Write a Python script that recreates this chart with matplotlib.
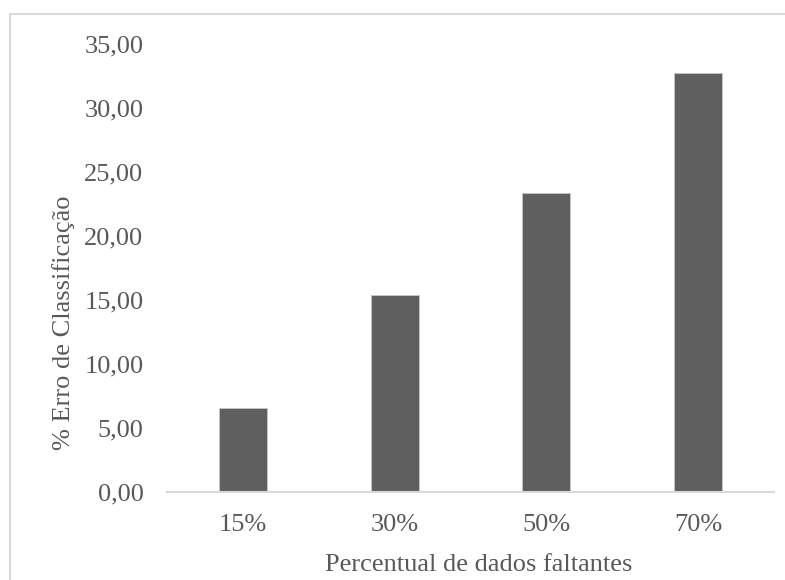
"""
Erro de classificação em função do percentual de dados faltantes
"""

import matplotlib.pyplot as plt
from matplotlib.patches import Rectangle
import numpy as np

categorias = ["15%", "30%", "50%", "70%"]
erro_classificacao = [6.50, 15.35, 23.33, 32.75]

plt.rcParams["font.family"] = ["Liberation Serif", "DejaVu Serif"]
cor_texto = "#595959"
tam_fonte = 19

fig = plt.figure(figsize=(7.85, 5.8), dpi=100)
ax = fig.add_axes([167 / 785, 1 - 491.5 / 580, 607 / 785, 447.5 / 580])

posicoes = np.arange(len(categorias))
ax.bar(posicoes, erro_classificacao, 0.316, color="#5f5f5f",
       edgecolor="#c8c8c8", linewidth=0.6, zorder=2)

ax.set_xlim(-0.5, len(categorias) - 0.5)
ax.set_ylim(0, 35)
ax.set_yticks(np.arange(0, 36, 5))
ax.set_yticklabels([f"{v:.2f}".replace(".", ",") for v in np.arange(0, 36, 5)])
ax.set_xticks(posicoes)
ax.set_xticklabels(categorias)

for lado in ["top", "right", "left"]:
    ax.spines[lado].set_visible(False)
ax.spines["bottom"].set_color("#d9d9d9")
ax.spines["bottom"].set_linewidth(1.5)
ax.tick_params(axis="both", length=0, labelsize=tam_fonte, colors=cor_texto)
ax.tick_params(axis="y", pad=17)
ax.tick_params(axis="x", pad=16)

ax.set_xlabel("Percentual de dados faltantes", fontsize=tam_fonte, color=cor_texto)
ax.set_ylabel("% Erro de Classificação", fontsize=tam_fonte, color=cor_texto)
ax.xaxis.set_label_coords((478.5 - 167) / 607, -(565 - 491.5) / 447.5)
ax.yaxis.set_label_coords(-(167 - 64) / 607, (491.5 - 323) / 447.5)
ax.xaxis.label.set_verticalalignment("center")
ax.yaxis.label.set_verticalalignment("center")

# moldura da área do gráfico
fig.patches.append(Rectangle((9.5 / 785, -0.1), 1.2, 1.1 - 14.5 / 580,
                             transform=fig.transFigure, fill=False,
                             edgecolor="#d9d9d9", linewidth=1.5))

fig.savefig("out.png", dpi=100)
